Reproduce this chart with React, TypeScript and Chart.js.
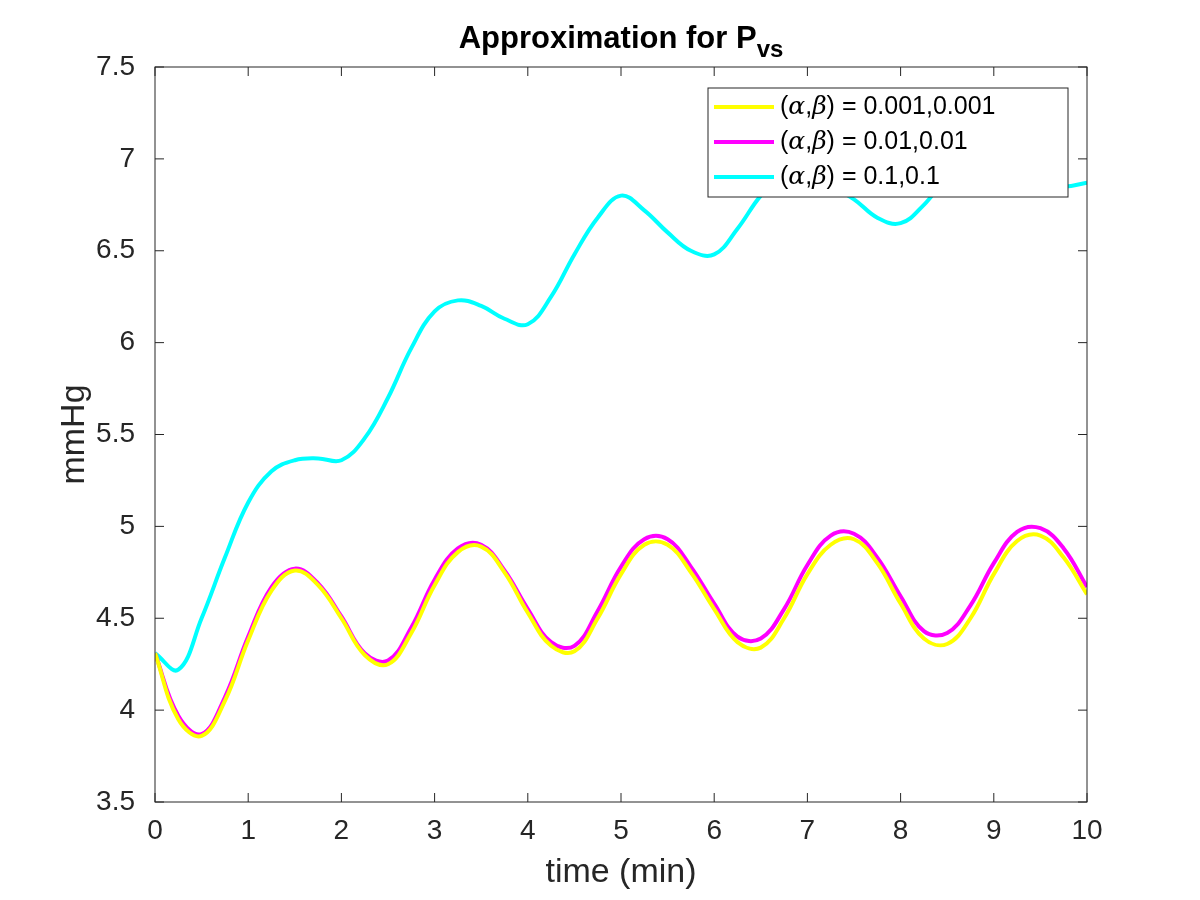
import React, { useEffect, useRef } from "react"
import { Chart, registerables } from "chart.js"

Chart.register(...registerables)

const times = [0, 0.25, 0.5, 0.75, 1, 1.25, 1.5, 1.75, 2, 2.25, 2.5, 2.75, 3, 3.25, 3.5, 3.75, 4, 4.25, 4.5, 4.75, 5, 5.25, 5.5, 5.75, 6, 6.25, 6.5, 6.75, 7, 7.25, 7.5, 7.75, 8, 8.25, 8.5, 8.75, 9, 9.25, 9.5, 9.75, 10]

const yellowVals = [4.31, 3.95, 3.86, 4.05, 4.38, 4.65, 4.76, 4.68, 4.5, 4.3, 4.25, 4.42, 4.68, 4.86, 4.89, 4.75, 4.53, 4.35, 4.32, 4.5, 4.74, 4.9, 4.9, 4.75, 4.55, 4.37, 4.34, 4.5, 4.74, 4.9, 4.93, 4.8, 4.58, 4.39, 4.36, 4.5, 4.74, 4.92, 4.95, 4.83, 4.63]
const magentaVals = [4.31, 3.97, 3.87, 4.07, 4.4, 4.67, 4.77, 4.69, 4.51, 4.31, 4.27, 4.45, 4.71, 4.88, 4.9, 4.76, 4.55, 4.37, 4.35, 4.54, 4.78, 4.93, 4.93, 4.78, 4.58, 4.4, 4.39, 4.55, 4.79, 4.95, 4.96, 4.83, 4.62, 4.43, 4.42, 4.57, 4.8, 4.97, 4.99, 4.88, 4.67]
const cyanVals = [4.31, 4.22, 4.5, 4.83, 5.13, 5.3, 5.36, 5.37, 5.36, 5.48, 5.7, 5.97, 6.17, 6.23, 6.2, 6.13, 6.1, 6.25, 6.48, 6.68, 6.8, 6.72, 6.6, 6.5, 6.48, 6.62, 6.8, 6.92, 6.9, 6.85, 6.78, 6.68, 6.65, 6.75, 6.9, 6.98, 7.0, 6.95, 6.88, 6.85, 6.87]

const legendLabels = ["0.001,0.001", "0.01,0.01", "0.1,0.1"]
const colors = ["#ffff00", "#ff00ff", "#00ffff"]
const xTicks = [0, 1, 2, 3, 4, 5, 6, 7, 8, 9, 10]
const yTicks = [3.5, 4, 4.5, 5, 5.5, 6, 6.5, 7, 7.5]

const FONT = "'Liberation Sans', Arial, sans-serif"

const decorPlugin = {
    id: "decor",
    afterDraw(chart: any) {
        const { ctx, chartArea: a, scales } = chart
        ctx.save()
        ctx.strokeStyle = "#262626"
        ctx.lineWidth = 1
        ctx.strokeRect(a.left, a.top, a.right - a.left, a.bottom - a.top)
        ctx.beginPath()
        xTicks.forEach(t => {
            const x = scales.x.getPixelForValue(t)
            ctx.moveTo(x, a.bottom); ctx.lineTo(x, a.bottom - 9)
            ctx.moveTo(x, a.top); ctx.lineTo(x, a.top + 9)
        })
        yTicks.forEach(t => {
            const y = scales.y.getPixelForValue(t)
            ctx.moveTo(a.left, y); ctx.lineTo(a.left + 9, y)
            ctx.moveTo(a.right, y); ctx.lineTo(a.right - 9, y)
        })
        ctx.stroke()

        // title
        ctx.fillStyle = "#000"
        const t1 = "Approximation for P"
        ctx.font = `bold 24px ${FONT}`
        const subW = ctx.measureText("vs").width
        ctx.font = `bold 31px ${FONT}`
        const w1 = ctx.measureText(t1).width
        const cx = (a.left + a.right) / 2
        const sx = cx - (w1 + subW) / 2
        ctx.textBaseline = "alphabetic"
        ctx.textAlign = "left"
        ctx.fillText(t1, sx, 48)
        ctx.font = `bold 24px ${FONT}`
        ctx.fillText("vs", sx + w1, 57)

        // axis titles
        ctx.fillStyle = "#262626"
        ctx.font = `34px ${FONT}`
        ctx.textAlign = "center"
        ctx.fillText("time (min)", cx, 882)
        ctx.save()
        ctx.translate(84, (a.top + a.bottom) / 2)
        ctx.rotate(-Math.PI / 2)
        ctx.fillText("mmHg", 0, 0)
        ctx.restore()

        // legend
        const lx = 708, ly = 88, lw = 360, lh = 109
        ctx.fillStyle = "#fff"
        ctx.fillRect(lx, ly, lw, lh)
        ctx.strokeStyle = "#262626"
        ctx.strokeRect(lx, ly, lw, lh)
        legendLabels.forEach((lab, i) => {
            const y = ly + 19 + i * 35
            ctx.strokeStyle = colors[i]
            ctx.lineWidth = 4
            ctx.beginPath()
            ctx.moveTo(lx + 6, y); ctx.lineTo(lx + 66, y)
            ctx.stroke()
            ctx.fillStyle = "#000"
            ctx.textAlign = "left"
            ctx.textBaseline = "middle"
            let x = lx + 72
            const part = (s: string, italic: boolean) => {
                ctx.font = `${italic ? "italic " : ""}25px ${italic ? "'DejaVu Serif', serif" : FONT}`
                ctx.fillText(s, x, y)
                x += ctx.measureText(s).width
            }
            part("(", false); part("α", true); part(",", false); part("β", true); part(") = " + lab, false)
        })
        ctx.restore()
    },
}

export default function App() {
    const canvasRef = useRef<HTMLCanvasElement>(null)

    useEffect(() => {
        document.body.style.margin = "0"
        if (!canvasRef.current) return
        const mk = (vals: number[]) => times.map((t, i) => ({ x: t, y: vals[i] }))
        const chart = new Chart(canvasRef.current, {
            type: "line",
            data: {
                datasets: [yellowVals, magentaVals, cyanVals].map((v, i) => ({
                    data: mk(v),
                    borderColor: colors[i],
                    borderWidth: 4,
                    pointRadius: 0,
                    tension: 0.4,
                    fill: false,
                })),
            },
            options: {
                animation: false,
                responsive: false,
                layout: { padding: { top: 67, right: 113, left: 0, bottom: 0 } },
                plugins: { legend: { display: false }, tooltip: { enabled: false } },
                scales: {
                    x: {
                        type: "linear", min: 0, max: 10,
                        grid: { display: false }, border: { display: false },
                        afterFit: (s: any) => { s.height = 98 },
                        afterBuildTicks: (s: any) => { s.ticks = xTicks.map(v => ({ value: v })) },
                        ticks: { font: { size: 28, family: FONT }, color: "#262626", padding: 4, maxRotation: 0, callback: (v: any) => String(v) },
                    },
                    y: {
                        min: 3.5, max: 7.5,
                        grid: { display: false }, border: { display: false },
                        afterFit: (s: any) => { s.width = 155 },
                        afterBuildTicks: (s: any) => { s.ticks = yTicks.map(v => ({ value: v })) },
                        ticks: { font: { size: 28, family: FONT }, color: "#262626", padding: 12, callback: (v: any) => String(v) },
                    },
                },
            },
            plugins: [decorPlugin],
        })
        return () => chart.destroy()
    }, [])

    return <canvas ref={canvasRef} width={1200} height={900} style={{ display: "block", background: "#fff" }} />
}
